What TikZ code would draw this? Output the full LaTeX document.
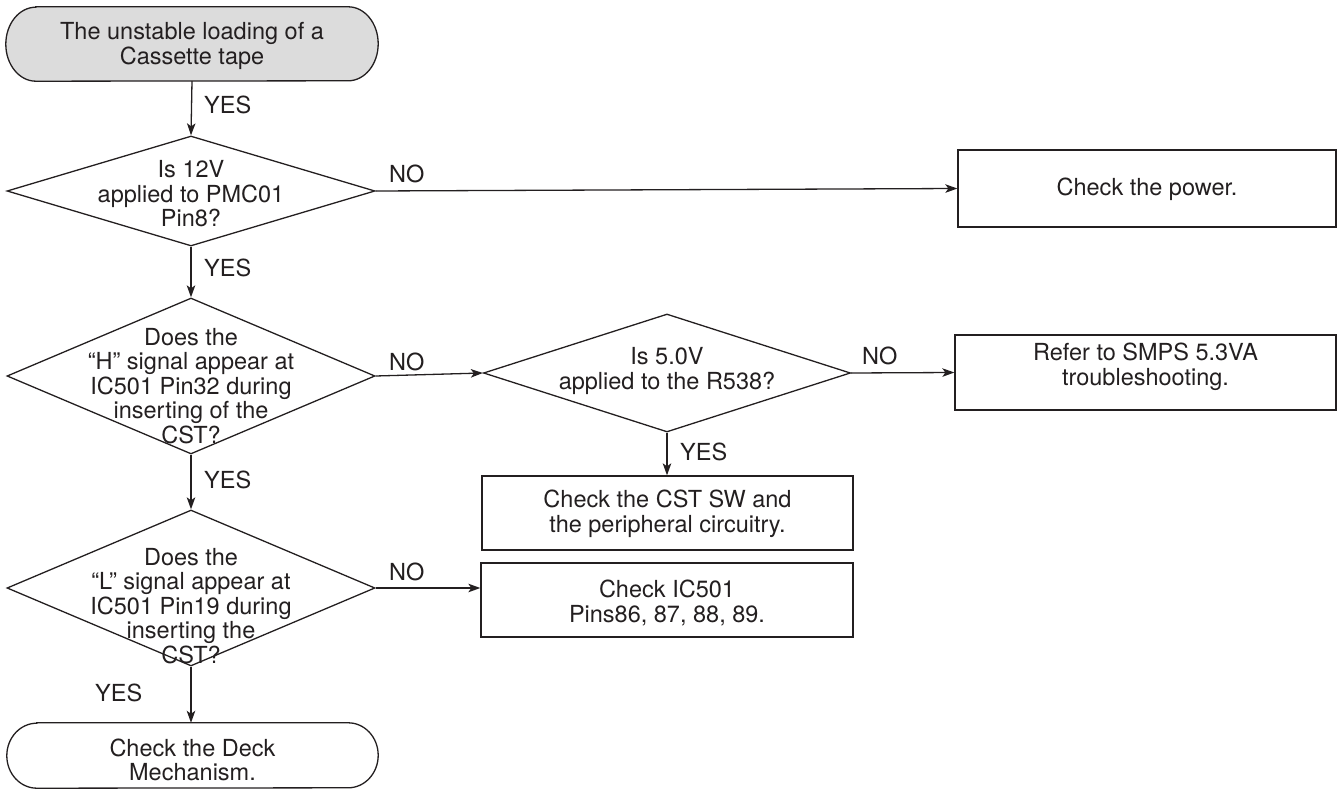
\documentclass[tikz,border=0pt]{standalone}
\usepackage{fontspec}
\setmainfont{TeX Gyre Heros}
\usetikzlibrary{shapes.geometric,arrows.meta}
\definecolor{ink}{HTML}{231F20}
\definecolor{startgray}{HTML}{DCDCDC}
\begin{document}
\begin{tikzpicture}[x=1pt,y=-1pt,
  every node/.style={font=\fontsize{23.5}{24.5}\selectfont, text=ink, align=center},
  line/.style={draw=ink, line width=1.3pt},
  arr/.style={line, -{Stealth[length=12pt,width=8.5pt,inset=3pt]}},
  dia/.style={shape=diamond, line, inner sep=0pt},
  box/.style={rectangle, line, inner sep=0pt},
  term/.style={rectangle, draw=none, inner sep=0pt},
  lbl/.style={anchor=west, inner sep=0pt}]
\useasboundingbox (0,0) rectangle (1339,791);

% shapes
\node[term, minimum width=372pt, minimum height=74pt] (start) at (192,44) {};
\path[line, fill=startgray] ([xshift=30pt]start.north west) -- ([xshift=-30pt]start.north east)
  arc[start angle=90, end angle=-90, x radius=30pt, y radius=37pt]
  -- ([xshift=30pt]start.south west)
  arc[start angle=270, end angle=90, x radius=30pt, y radius=37pt] -- cycle;
\node[dia, minimum width=368pt, minimum height=110pt] (d1) at (191,191) {};
\node[box, minimum width=378pt, minimum height=77pt] (power) at (1147,188.5) {};
\node[dia, minimum width=368pt, minimum height=156pt] (d2) at (191,376) {};
\node[dia, minimum width=367pt, minimum height=118pt] (d3) at (667,373) {};
\node[box, minimum width=381pt, minimum height=75pt] (smps) at (1145.5,372.5) {};
\node[box, minimum width=371pt, minimum height=74pt] (cst) at (667.5,513) {};
\node[box, minimum width=372pt, minimum height=74pt] (ic) at (667,600) {};
\node[dia, minimum width=368pt, minimum height=156pt] (d4) at (191,588) {};
\node[term, minimum width=371pt, minimum height=65pt] (end) at (192.5,755.5) {};
\path[line] ([xshift=30pt]end.north west) -- ([xshift=-30pt]end.north east)
  arc[start angle=90, end angle=-90, x radius=30pt, y radius=32.5pt]
  -- ([xshift=30pt]end.south west)
  arc[start angle=270, end angle=90, x radius=30pt, y radius=32.5pt] -- cycle;

% texts
\node (tstart) at (192,46) {The unstable loading of a\\Cassette tape};
\node (td1) at (191,194) {Is 12V\\applied to PMC01\\Pin8?};
\node (tpower) at (1147,189) {Check the power.};
\node (td2) at (191,386) {Does the\\\char"201CH\char"201D\ signal appear at\\IC501 Pin32 during\\inserting of the\\CST?};
\node (td3) at (667,371) {Is 5.0V\\applied to the R538?};
\node (tsmps) at (1145.5,367) {Refer to SMPS 5.3VA\\troubleshooting.};
\node (tcst) at (667.5,514) {Check the CST SW and\\the peripheral circuitry.};
\node (tic) at (667,603) {Check IC501\\Pins86, 87, 88, 89.};
\node (td4) at (191,606) {Does the\\\char"201CL\char"201D\ signal appear at\\IC501 Pin19 during\\inserting the\\CST?};
\node (tend) at (192.5,760) {Check the Deck\\Mechanism.};

% connectors
\draw[arr] (start.south) -- (d1.north);
\draw[arr] (d1.east) -- (power.west);
\draw[arr] (d1.south) -- (d2.north);
\draw[arr] (d2.east) -- (d3.west);
\draw[arr] (d3.east) -- (smps.west);
\draw[arr] (d3.south) -- (d3.south |- cst.north);
\draw[arr] (d2.south) -- (d4.north);
\draw[arr] (d4.east) -- (d4.east -| ic.west);
\draw[arr] (d4.south) -- (d4.south |- end.north);

% labels
\node[lbl] (y1) at (204,105) {YES};
\node[lbl] (n1) at (389,174) {NO};
\node[lbl] (y2) at (204,268) {YES};
\node[lbl] (n2) at (389,362) {NO};
\node[lbl] (n3) at (862,356) {NO};
\node[lbl] (y3) at (680,452) {YES};
\node[lbl] (y4) at (204,480) {YES};
\node[lbl] (n4) at (389,572) {NO};
\node[lbl] (y5) at (95,693) {YES};
\end{tikzpicture}
\end{document}
